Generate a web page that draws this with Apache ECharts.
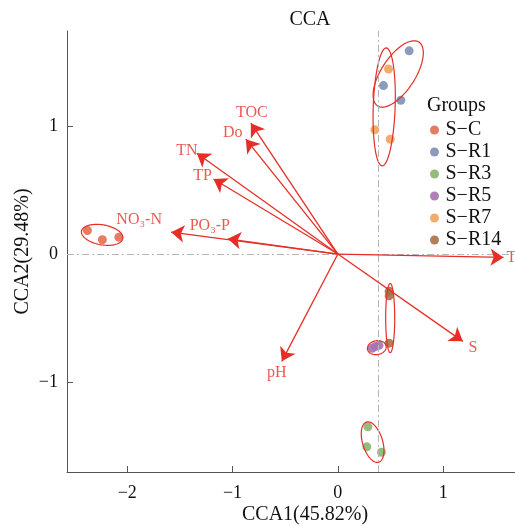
<!DOCTYPE html>
<html>
<head>
<meta charset="utf-8">
<script src="https://cdn.jsdelivr.net/npm/echarts@6/dist/echarts.min.js"></script>
<style>html,body{margin:0;padding:0;background:#fff;}#c{width:515px;height:526px;}</style>
</head>
<body>
<div id="c"></div>
<script>
// ---- data ----
var groups = ['S-C', 'S-R1', 'S-R3', 'S-R5', 'S-R7', 'S-R14'];
var groupLabels = ['S\u2212C', 'S\u2212R1', 'S\u2212R3', 'S\u2212R5', 'S\u2212R7', 'S\u2212R14'];
var ptsSC  = [[-2.378, 0.184], [-2.236, 0.112], [-2.080, 0.132]];
var ptsSR1 = [[0.677, 1.585], [0.433, 1.314], [0.598, 1.200]];
var ptsSR3 = [[0.285, -1.348], [0.275, -1.504], [0.414, -1.546]];
var ptsSR5 = [[0.326, -0.735], [0.355, -0.722], [0.390, -0.712]];
var ptsSR7 = [[0.481, 1.444], [0.351, 0.969], [0.497, 0.896]];
var ptsSR14 = [[0.487, -0.291], [0.487, -0.326], [0.487, -0.695]];
var groupPoints = [ptsSC, ptsSR1, ptsSR3, ptsSR5, ptsSR7, ptsSR14];
// ellipse per group: centre x, centre y, semi-major, semi-minor (x-axis units), angle (deg)
var ellipses = [
  [-2.238, 0.150, 0.199, 0.095, -10],
  [0.573, 1.405, 0.361, 0.161, 57],
  [0.330, -1.467, 0.199, 0.095, -73],
  [0.370, -0.730, 0.090, 0.066, 10],
  [0.440, 1.148, 0.560, 0.104, 88],
  [0.497, -0.499, 0.328, 0.043, 90]
];
var envNames = ['T', 'S', 'pH', 'TOC', 'Do', 'TN', 'TP', 'PO\u2083-P', 'NO\u2083-N'];
var envX = [1.573, 1.187, -0.532, -0.826, -0.874, -1.339, -1.181, -1.045, -1.583];
var envY = [-0.026, -0.681, -0.837, 1.021, 0.896, 0.787, 0.585, 0.119, 0.171];
var xTicks = [-2, -1, 0, 1];
var yTicks = [-1, 0, 1];
var refX = 0.38;
var refY = 0;

// ---- styles ----
var colors = ['#e06f52', '#7f8fb4', '#8ab56f', '#a872b0', '#f4a25e', '#a9714a'];
var red = '#e62e26';
var serif = '"Liberation Serif", "DejaVu Serif", serif';
var labelOffsets = [[8, 0], [10, 6], [-5, 11], [1, -10], [-13, -6], [-10, -2], [-11, -3], [-18, -13], [-32, -12]];

var chart = echarts.init(document.getElementById('c'));

function fmt(v) { return String(v).replace('-', '\u2212'); }

var series = [];
// reference lines
series.push({
  type: 'scatter', data: [], z: 1, silent: true,
  markLine: {
    silent: true, symbol: ['none', 'none'], label: { show: false },
    lineStyle: { color: '#b5b5b5', type: [7, 3, 2, 3], width: 1 },
    animation: false,
    data: [{ xAxis: refX }, { yAxis: refY }]
  }
});
// ellipses
series.push({
  type: 'custom', z: 4, silent: true,
  data: ellipses,
  renderItem: function (params, api) {
    var c = api.coord([api.value(0), api.value(1)]);
    var a = api.size([api.value(2), 0])[0];
    var b = api.size([api.value(3), 0])[0];
    var th = api.value(4) * Math.PI / 180;
    var ux = Math.cos(th), uy = -Math.sin(th);
    var vx = Math.sin(th), vy = Math.cos(th);
    var pts = [];
    for (var i = 0; i < 90; i++) {
      var t = i / 90 * Math.PI * 2;
      var ca = a * Math.cos(t), sb = b * Math.sin(t);
      pts.push([c[0] + ca * ux + sb * vx, c[1] + ca * uy + sb * vy]);
    }
    return { type: 'polygon', shape: { points: pts }, style: { fill: 'none', stroke: red, lineWidth: 1.2 } };
  }
});
// arrows
series.push({
  type: 'lines', coordinateSystem: 'cartesian2d', z: 5, silent: true,
  symbol: ['none', 'arrow'], symbolSize: [10, 13],
  lineStyle: { color: red, width: 1.3, opacity: 1, curveness: 0 },
  data: envNames.map(function (n, i) { return { coords: [[0, 0], [envX[i], envY[i]]] }; })
});
// arrow labels
series.push({
  type: 'scatter', z: 6, silent: true, symbolSize: 0,
  data: envNames.map(function (n, i) {
    return {
      name: n, value: [envX[i], envY[i]],
      label: { offset: labelOffsets[i] }
    };
  }),
  label: {
    show: true, position: 'inside', formatter: '{b}',
    color: red, fontSize: 16, fontFamily: serif
  }
});
// points
groups.forEach(function (g, gi) {
  series.push({
    name: groupLabels[gi], type: 'scatter', z: 3,
    symbolSize: 9,
    itemStyle: { color: colors[gi], opacity: 0.9 },
    data: groupPoints[gi]
  });
});

chart.setOption({
  animation: false,
  backgroundColor: '#fff',
  title: {
    text: 'CCA', left: 305, top: 5, textAlign: 'center',
    textStyle: { fontFamily: serif, fontSize: 20, fontWeight: 'normal', color: '#111' }
  },
  graphic: [{
    type: 'text', left: 427, top: 96,
    style: { text: 'Groups', font: '20px ' + serif, fill: '#111' }
  }],
  legend: {
    orient: 'vertical', left: 425, top: 115,
    icon: 'circle', itemWidth: 12, itemHeight: 9, itemGap: 2,
    textStyle: { fontFamily: serif, fontSize: 20, color: '#111' },
    data: groupLabels
  },
  grid: { left: 67, top: 31, width: 476, height: 441, containLabel: false, outerBoundsMode: 'none' },
  xAxis: {
    type: 'value', min: -2.572, max: 1.948,
    name: 'CCA1(45.82%)', nameLocation: 'middle', nameGap: 33, nameMoveOverlap: false,
    nameTextStyle: { fontFamily: serif, fontSize: 20, color: '#111' },
    axisLine: { show: true, onZero: false, lineStyle: { color: '#555', width: 1 } },
    axisTick: { show: true, inside: true, length: 6, customValues: xTicks, lineStyle: { color: '#555' } },
    axisLabel: { customValues: xTicks, formatter: fmt, fontFamily: serif, fontSize: 18, color: '#111', margin: 12 },
    splitLine: { show: false }
  },
  yAxis: {
    type: 'value', min: -1.70, max: 1.74,
    name: 'CCA2(29.48%)', nameLocation: 'middle', nameGap: 34, nameMoveOverlap: false,
    nameTextStyle: { fontFamily: serif, fontSize: 20, color: '#111' },
    axisLine: { show: true, onZero: false, lineStyle: { color: '#555', width: 1 } },
    axisTick: { show: true, inside: true, length: 6, customValues: yTicks, lineStyle: { color: '#555' } },
    axisLabel: { customValues: yTicks, formatter: fmt, fontFamily: serif, fontSize: 18, color: '#111', margin: 9 },
    splitLine: { show: false }
  },
  series: series
});
</script>
</body>
</html>
